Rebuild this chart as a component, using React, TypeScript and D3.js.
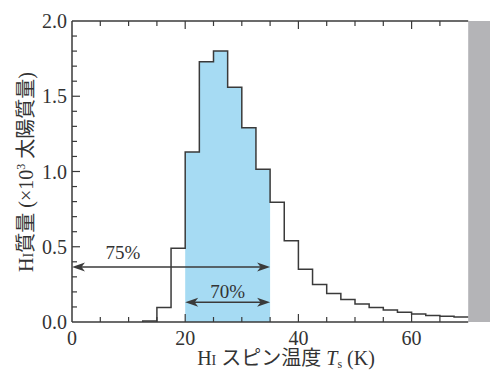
import React from "react";
import { scaleLinear, range } from "d3";

// histogram bin edges (K) and HI mass per bin (x10^3 solar masses)
const binStart = [12.5, 15, 17.5, 20, 22.5, 25, 27.5, 30, 32.5, 35, 37.5, 40, 42.5, 45, 47.5, 50, 52.5, 55, 57.5, 60, 62.5, 65, 67.5];
const binMass = [0.006, 0.097, 0.49, 1.13, 1.73, 1.8, 1.56, 1.29, 1.015, 0.795, 0.54, 0.35, 0.25, 0.19, 0.15, 0.12, 0.097, 0.08, 0.064, 0.053, 0.044, 0.038, 0.033];
const binWidth = 2.5;

const xTickLabels = [0, 20, 40, 60];
const yTickLabels = [0, 0.5, 1.0, 1.5, 2.0];

// shaded ranges and arrows
const coreRange = [20, 35];
const excludedRange = [70, 75];
const arrow75 = { from: 0, to: 35, y: 0.366, label: "75%" };
const arrow70 = { from: 20, to: 35, y: 0.132, label: "70%" };

const W = 490;
const H = 371;
const serif = "'Liberation Serif', 'Noto Sans CJK JP', serif";
const ink = "#3a3a3a";

function arrowHead(x: number, y: number, dir: number) {
  // dir = 1 points right, -1 points left
  const L = 13, hw = 4.5, notch = 3.5;
  return `M${x},${y} L${x - dir * L},${y - hw} L${x - dir * (L - notch)},${y} L${x - dir * L},${y + hw} Z`;
}

export default function App() {
  const x = scaleLinear().domain([0, 75]).range([72, 496.5]);
  const y = scaleLinear().domain([0, 2]).range([322, 21]);

  // step outline
  let d = `M${x(binStart[0])},${y(0)}`;
  binStart.forEach((s, i) => {
    d += ` L${x(s)},${y(binMass[i])} L${x(s + binWidth)},${y(binMass[i])}`;
  });

  // blue area for core range
  let blue = `M${x(coreRange[0])},${y(0)}`;
  binStart.forEach((s, i) => {
    if (s >= coreRange[0] && s + binWidth <= coreRange[1]) {
      blue += ` L${x(s)},${y(binMass[i])} L${x(s + binWidth)},${y(binMass[i])}`;
    }
  });
  blue += ` L${x(coreRange[1])},${y(0)} Z`;

  const xMinor = range(0, 76, 5);
  const yMinor = range(0, 21).map((v) => v / 10);

  const drawArrow = (a: typeof arrow75) => (
    <g>
      <line x1={x(a.from) + 4} x2={x(a.to) - 4} y1={y(a.y)} y2={y(a.y)} stroke={ink} strokeWidth={1.5} />
      <path d={arrowHead(x(a.from), y(a.y), -1)} fill={ink} />
      <path d={arrowHead(x(a.to), y(a.y), 1)} fill={ink} />
    </g>
  );

  return (
    <svg width={W} height={H} style={{ position: "absolute", left: 0, top: 0, background: "#fff" }}>
      <path d={blue} fill="#a6dbf3" />
      <rect x={x(excludedRange[0])} y={y(2)} width={x(excludedRange[1]) - x(excludedRange[0])} height={y(0) - y(2)} fill="#b4b4b7" />
      <path d={d} fill="none" stroke={ink} strokeWidth={1.5} />

      {/* frame */}
      <line x1={x(0)} x2={x(excludedRange[0])} y1={y(2)} y2={y(2)} stroke={ink} strokeWidth={1.5} />
      <line x1={x(0)} x2={x(excludedRange[0])} y1={y(0)} y2={y(0)} stroke={ink} strokeWidth={1.5} />
      <line x1={x(0)} x2={x(0)} y1={y(0)} y2={y(2)} stroke={ink} strokeWidth={1.5} />

      {xMinor.filter((v) => v > 0 && v < 70).map((v) => {
        const len = v % 20 === 0 ? 8 : 5;
        return (
          <g key={"xt" + v}>
            <line x1={x(v)} x2={x(v)} y1={y(0)} y2={y(0) - len} stroke={ink} strokeWidth={1.2} />
            <line x1={x(v)} x2={x(v)} y1={y(2)} y2={y(2) + len} stroke={ink} strokeWidth={1.2} />
          </g>
        );
      })}
      {yMinor.filter((v) => v > 0 && v < 2).map((v) => {
        const len = Math.round(v * 10) % 5 === 0 ? 8 : 5;
        return <line key={"yt" + v} x1={x(0)} x2={x(0) + len} y1={y(v)} y2={y(v)} stroke={ink} strokeWidth={1.2} />;
      })}

      {xTickLabels.map((v) => (
        <text key={"xl" + v} x={x(v)} y={345} textAnchor="middle" fontFamily={serif} fontSize={20} fill="#333">
          {v}
        </text>
      ))}
      {yTickLabels.map((v) => (
        <text key={"yl" + v} x={67} y={y(v) + 7} textAnchor="end" fontFamily={serif} fontSize={20} fill="#333">
          {v.toFixed(1)}
        </text>
      ))}

      {drawArrow(arrow75)}
      {drawArrow(arrow70)}
      <text x={123} y={259} textAnchor="middle" fontFamily={serif} fontSize={19} fill="#333">{arrow75.label}</text>
      <text x={x(27.5)} y={298} textAnchor="middle" fontFamily={serif} fontSize={19} fill="#333">{arrow70.label}</text>

      <text x={286} y={365} textAnchor="middle" fontFamily={serif} fontSize={20} fill="#333">
        H<tspan fontSize={14}>I</tspan> スピン温度 <tspan fontStyle="italic">T</tspan>
        <tspan fontSize={12} dy={3}>s</tspan>
        <tspan dy={-3}> (K)</tspan>
      </text>

      <text transform="translate(33,172) rotate(-90)" textAnchor="middle" fontFamily={serif} fontSize={20} fill="#333">
        H<tspan fontSize={14}>I</tspan>質量 (×10<tspan fontSize={12} dy={-8}>3</tspan>
        <tspan dy={8}> 太陽質量)</tspan>
      </text>
    </svg>
  );
}
